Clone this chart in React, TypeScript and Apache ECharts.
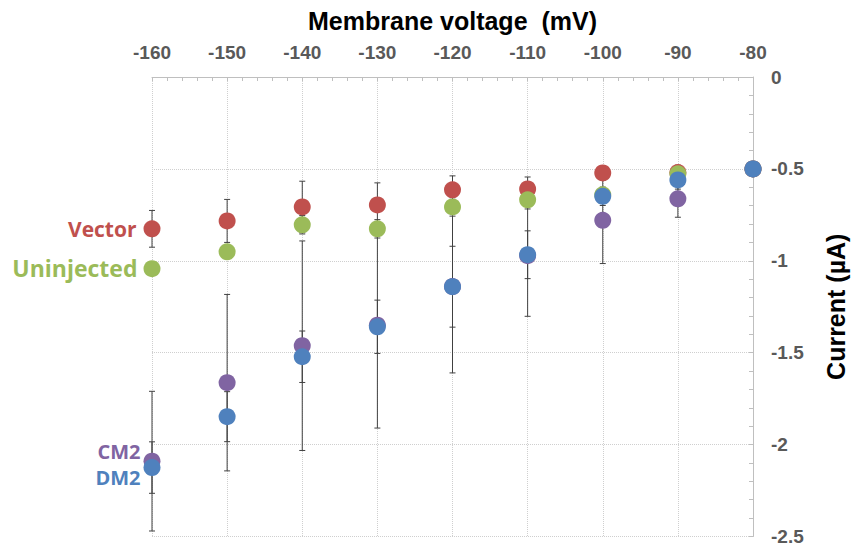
import React, { useEffect, useRef } from "react";
import * as echarts from "echarts";

const voltages = [-160, -150, -140, -130, -120, -110, -100, -90, -80];

const seriesNames = ["Vector", "Uninjected", "CM2", "DM2"];
const seriesColors = ["#C0504D", "#9BBB59", "#8064A2", "#4F81BD"];

const vectorMean = [-0.826, -0.783, -0.707, -0.696, -0.614, -0.609, -0.522, -0.52, -0.5];
const vectorErr = [0.1, 0.117, 0.14, 0.12, 0.076, 0.065, 0.04, 0.04, 0];

const uninjectedMean = [-1.043, -0.951, -0.804, -0.826, -0.707, -0.668, -0.641, -0.527, -0.5];
const uninjectedErr = [0.03, 0.03, 0.05, 0.05, 0.05, 0.05, 0.03, 0.03, 0];

const cm2Mean = [-2.09, -1.663, -1.462, -1.35, -1.14, -0.972, -0.78, -0.663, -0.5];
const cm2Err = [0.38, 0.48, 0.57, 0.56, 0.47, 0.33, 0.235, 0.1, 0];

const dm2Mean = [-2.125, -1.848, -1.522, -1.359, -1.141, -0.967, -0.649, -0.56, -0.5];
const dm2Err = [0.14, 0.136, 0.14, 0.145, 0.22, 0.13, 0.05, 0.05, 0];

const xTicks = { min: -160, max: -80, interval: 10 };
const yTicks = { min: -2.5, max: 0, interval: 0.5 };

const labelOffsets = [[0, 0], [0, -1], [0, -10], [0, 10]];
const labelDistances = [7, 6, 3, 3];
const labelSizes = [21, 23, 20, 20];

export default function App() {
  const ref = useRef<HTMLDivElement>(null);

  useEffect(() => {
    document.body.style.margin = "0";
    if (!ref.current) return;
    const chart = echarts.init(ref.current, null, { renderer: "svg" });

    const means = [vectorMean, uninjectedMean, cm2Mean, dm2Mean];
    const errs = [vectorErr, uninjectedErr, cm2Err, dm2Err];

    const errSeries = means.map((m, si) => ({
      type: "custom",
      name: seriesNames[si] + " err",
      z: 1,
      silent: true,
      data: voltages.map((v, i) => [v, m[i], errs[si][i]]),
      renderItem: (params: any, api: any) => {
        const x = api.value(0);
        const y = api.value(1);
        const e = api.value(2);
        if (!e) return null;
        const top = api.coord([x, y + e]);
        const bot = api.coord([x, y - e]);
        const style = { stroke: "#404040", lineWidth: 1 };
        return {
          type: "group",
          children: [
            { type: "line", shape: { x1: top[0], y1: top[1], x2: bot[0], y2: bot[1] }, style },
            { type: "line", shape: { x1: top[0] - 3, y1: top[1], x2: top[0] + 3, y2: top[1] }, style },
            { type: "line", shape: { x1: bot[0] - 3, y1: bot[1], x2: bot[0] + 3, y2: bot[1] }, style },
          ],
        };
      },
    }));

    const scatterSeries = means.map((m, si) => ({
      type: "scatter",
      name: seriesNames[si],
      z: 2,
      symbolSize: 17,
      itemStyle: { color: seriesColors[si], opacity: 1 },
      data: voltages.map((v, i) =>
        i === 0
          ? {
              value: [v, m[i]],
              label: {
                show: true,
                position: "left",
                distance: labelDistances[si],
                offset: labelOffsets[si],
                formatter: seriesNames[si],
                color: seriesColors[si],
                fontFamily: "Open Sans",
                fontWeight: "bold",
                fontSize: labelSizes[si],
                lineHeight: labelSizes[si],
              },
            }
          : [v, m[i]]
      ),
    }));

    chart.setOption({
      animation: false,
      grid: { left: 152, right: 93, top: 77, bottom: 8 },
      xAxis: {
        type: "value",
        position: "top",
        min: xTicks.min,
        max: xTicks.max,
        interval: xTicks.interval,
        name: "Membrane voltage  (mV)",
        nameLocation: "middle",
        nameGap: 44,
        nameTextStyle: {
          fontFamily: "Liberation Sans",
          fontWeight: "bold",
          fontSize: 25,
          color: "#000",
        },
        axisLine: { show: true, lineStyle: { color: "#bfbfbf", width: 1 } },
        axisTick: { show: true, inside: true, length: 4, lineStyle: { color: "#bfbfbf" } },
        minorTick: { show: true, splitNumber: 5, length: 4, lineStyle: { color: "#bfbfbf" } },
        axisLabel: {
          margin: 15,
          fontFamily: "Liberation Sans",
          fontWeight: "bold",
          fontSize: 19,
          color: "#595959",
        },
        splitLine: { show: true, lineStyle: { color: "#cfcfcf", type: "dotted", width: 1 } },
      },
      yAxis: {
        type: "value",
        position: "right",
        min: yTicks.min,
        max: yTicks.max,
        interval: yTicks.interval,
        name: "Current (µA)",
        nameLocation: "middle",
        nameRotate: 90,
        nameGap: 70,
        nameTextStyle: {
          fontFamily: "Liberation Sans",
          fontWeight: "bold",
          fontSize: 25,
          color: "#000",
        },
        axisLine: { show: true, lineStyle: { color: "#bfbfbf", width: 1 } },
        axisTick: { show: true, inside: true, length: 4, lineStyle: { color: "#bfbfbf" } },
        minorTick: { show: true, splitNumber: 5, length: 4, lineStyle: { color: "#bfbfbf" } },
        axisLabel: {
          margin: 18,
          fontFamily: "Liberation Sans",
          fontWeight: "bold",
          fontSize: 19,
          color: "#595959",
        },
        splitLine: { show: true, lineStyle: { color: "#cfcfcf", type: "dotted", width: 1 } },
      },
      series: [...errSeries, ...scatterSeries],
    });

    return () => chart.dispose();
  }, []);

  return <div ref={ref} style={{ width: 856, height: 546 }} />;
}
